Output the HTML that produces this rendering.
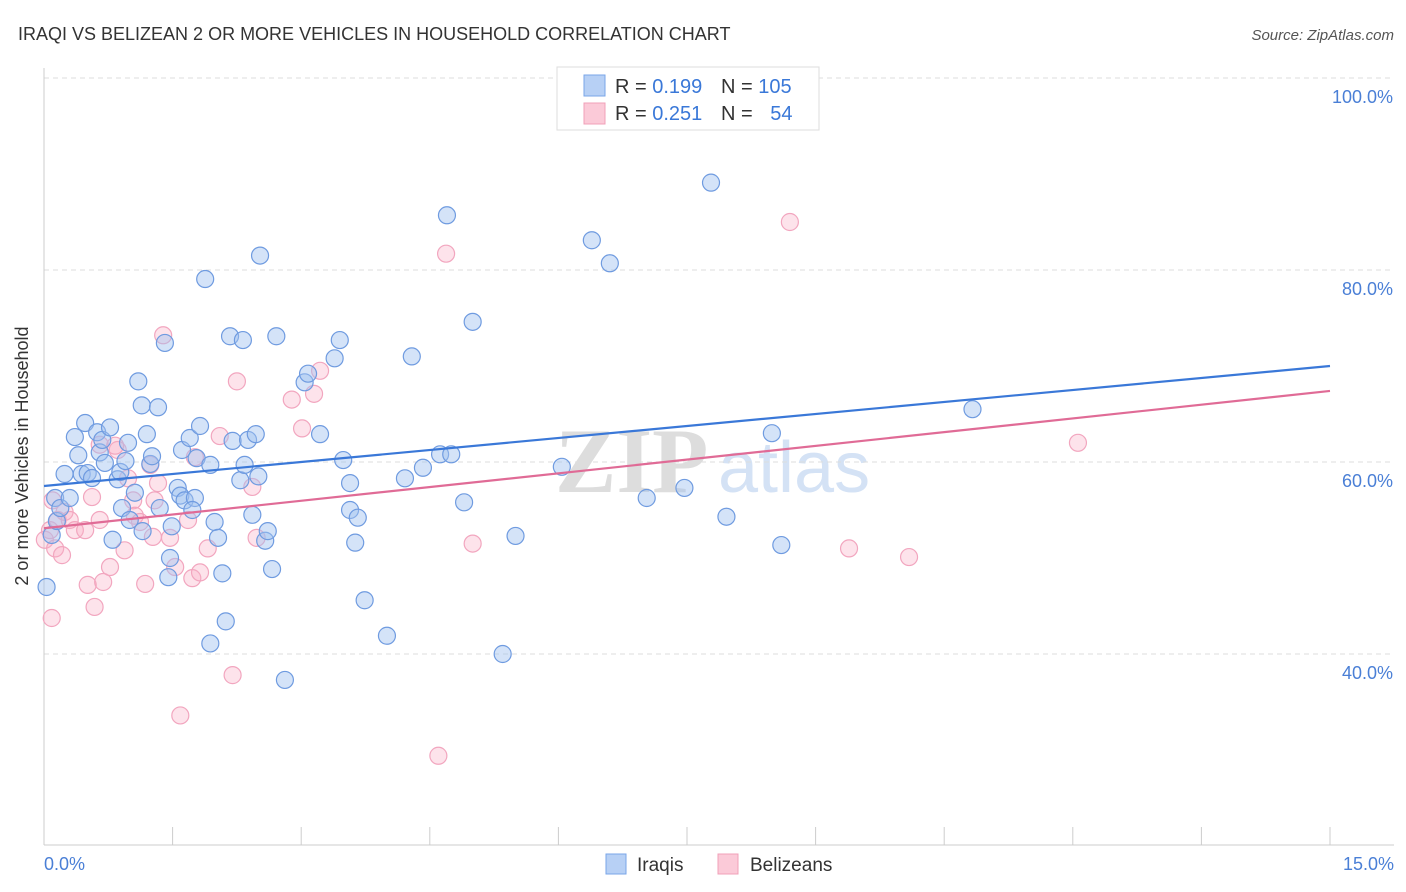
<!DOCTYPE html>
<html><head><meta charset="utf-8">
<style>
body{margin:0;background:#fff;font-family:"Liberation Sans",sans-serif;}
svg{display:block}
</style></head>
<body>
<svg id="chart" width="1406" height="892" xmlns="http://www.w3.org/2000/svg">
<text x="18" y="40" font-size="18" fill="#333">IRAQI VS BELIZEAN 2 OR MORE VEHICLES IN HOUSEHOLD CORRELATION CHART</text>
<text x="1394" y="40" font-size="15" fill="#555" font-style="italic" text-anchor="end">Source: ZipAtlas.com</text>
<g>
<text x="555" y="492" font-size="92" fill="#ddd" font-family="Liberation Serif,serif" font-weight="bold">ZIP</text>
<text x="718" y="492" font-size="72" fill="#d4e2f5">atlas</text>
</g>
<g id="grid"></g>
<g id="axes"></g>
<g id="points"></g>
<g id="lines"></g>
<text x="28" y="456" font-size="18" fill="#333" text-anchor="middle" transform="rotate(-90 28 456)">2 or more Vehicles in Household</text>
<text x="44" y="870" font-size="18" fill="#4a7fd6">0.0%</text>
<text x="1394" y="870" font-size="18" fill="#4a7fd6" text-anchor="end">15.0%</text>
<g>
<rect x="557" y="67" width="262" height="63" fill="#fff" stroke="#ddd"/>
<rect x="584" y="75" width="21" height="21" fill="#b7d0f5" stroke="#7aa6e8"/>
<rect x="584" y="103" width="21" height="21" fill="#fbcad8" stroke="#f0a0b8"/>
<text x="615" y="93" font-size="20" fill="#333">R = <tspan fill="#3a78d8">0.199</tspan></text>
<text x="721" y="93" font-size="20" fill="#333">N = <tspan fill="#3a78d8">105</tspan></text>
<text x="615" y="120" font-size="20" fill="#333">R = <tspan fill="#3a78d8">0.251</tspan></text>
<text x="721" y="120" font-size="20" fill="#333">N = <tspan fill="#3a78d8" dx="12">54</tspan></text>
</g>
<g>
<rect x="606" y="854" width="20" height="20" fill="#b7d0f5" stroke="#7aa6e8"/>
<text x="637" y="871" font-size="19" fill="#333">Iraqis</text>
<rect x="718" y="854" width="20" height="20" fill="#fbcad8" stroke="#f0a0b8"/>
<text x="750" y="871" font-size="19" fill="#333">Belizeans</text>
</g>
</svg>
<script>
const yTicks=[40,60,80,100];
const yTickLabels=["40.0%","60.0%","80.0%","100.0%"];
const xTicks=[0,1.5,3,4.5,6,7.5,9,10.5,12,13.5,15];
const iraqiX=[0.03,0.13,0.09,0.15,0.19,0.24,0.30,0.36,0.40,0.44,0.48,0.51,0.56,0.62,0.65,0.68,0.71,0.77,0.80,0.86,0.89,0.95,0.98,0.91,1.00,1.06,1.10,1.14,1.20,1.15,1.24,1.26,1.33,1.35,1.41,1.47,1.45,1.49,1.56,1.59,1.61,1.64,1.70,1.76,1.73,1.82,1.78,1.88,1.94,1.99,2.03,2.08,2.12,1.94,2.17,2.20,2.29,2.32,2.34,2.38,2.43,2.47,2.50,2.52,2.58,2.61,2.66,2.71,2.81,3.04,3.08,3.22,3.39,3.45,3.49,3.57,3.57,3.63,3.66,3.74,4.00,4.21,4.29,4.42,4.62,4.70,4.75,4.90,5.00,5.35,5.50,6.04,6.39,6.60,7.03,7.47,7.78,7.96,8.49,8.60,10.83];
const iraqiY=[46.98,56.25,52.4,53.85,55.2,58.75,56.25,62.6,60.7,58.75,64.06,58.85,58.33,63.1,61.0,62.3,59.9,63.6,51.9,58.2,58.96,60.1,62.0,55.2,53.96,56.8,68.4,65.9,62.9,52.8,59.8,60.6,65.7,55.2,72.4,50.0,48.0,53.3,57.3,56.5,61.25,56.0,62.5,56.25,55.0,63.75,60.4,79.06,59.7,53.75,52.1,48.4,43.4,41.1,73.1,62.2,58.1,72.7,59.7,62.3,54.5,62.9,58.5,81.5,51.8,52.8,48.85,73.1,37.3,68.3,69.2,62.9,70.8,72.7,60.2,57.8,55.0,51.6,54.2,45.6,41.9,58.3,71.0,59.4,60.8,85.7,60.8,55.8,74.6,40.0,52.3,59.5,83.1,80.7,56.25,57.3,89.1,54.3,63.0,51.35,65.5];
const belizeX=[0.01,0.07,0.13,0.21,0.09,0.10,0.16,0.24,0.30,0.36,0.48,0.51,0.56,0.59,0.65,0.69,0.77,0.86,0.94,0.98,1.04,1.06,1.12,1.18,1.24,1.29,1.33,1.27,1.39,1.47,1.53,1.59,1.68,1.73,1.76,1.82,1.91,2.05,2.20,2.25,2.43,2.48,2.89,3.01,3.15,3.22,4.60,4.69,5.00,8.70,9.39,10.09,12.06,0.65,0.83];
const belizeY=[51.9,52.9,51.0,50.3,43.75,56.0,53.96,54.8,53.96,52.9,52.9,47.2,56.35,44.9,53.96,47.5,49.06,61.25,50.8,58.3,56.0,54.4,53.75,47.3,59.7,56.0,57.8,52.2,73.2,52.1,49.06,33.6,53.96,47.9,60.5,48.5,51.0,62.7,37.8,68.4,57.4,52.1,66.5,63.5,67.1,69.5,29.4,81.7,51.5,85.0,51.0,50.1,62.0,61.8,61.7];
const iraqiTrend=[57.5,70.0];
const belizeTrend=[53.1,67.4];
const NS="http://www.w3.org/2000/svg";
function sx(v){return 44+v/15*1286;}
function sy(v){return 1038-v*9.6;}
function mk(tag,attrs,parent){const e=document.createElementNS(NS,tag);for(const k in attrs)e.setAttribute(k,attrs[k]);parent.appendChild(e);return e;}
const grid=document.getElementById('grid'),axes=document.getElementById('axes'),pts=document.getElementById('points'),lines=document.getElementById('lines');
yTicks.forEach((t,i)=>{
 const l=mk('line',{x1:44,x2:1394,y1:sy(t),y2:sy(t),stroke:'#ddd','stroke-dasharray':'5,4'},grid);
 
 
 const tx=mk('text',{x:1393,y:sy(t)+25,'font-size':18,fill:'#4a7fd6','text-anchor':'end'},grid);
 tx.textContent=yTickLabels[i];
 
 
});
const ya=mk('line',{x1:44,x2:44,y1:68,y2:845,stroke:'#ccc'},axes);


const xa=mk('line',{x1:44,x2:1394,y1:845,y2:845,stroke:'#ccc'},axes);


xTicks.forEach(t=>{
 const l=mk('line',{x1:sx(t),x2:sx(t),y1:827,y2:845,stroke:'#ccc'},axes);
 
 
});
function drawPts(X,Y,fill,stroke,name){
 X.forEach((x,i)=>{
  const c=mk('circle',{cx:sx(x),cy:sy(Y[i]),r:8.5,fill:fill,stroke:stroke,'stroke-width':1.2},pts);
  
  
 });
}
drawPts(belizeX,belizeY,'rgba(248,175,198,0.35)','#f2a6bf','belizean-point');
drawPts(iraqiX,iraqiY,'rgba(160,192,240,0.45)','#6f9be0','iraqi-point');
const l1=mk('line',{x1:sx(0),y1:sy(iraqiTrend[0]),x2:sx(15),y2:sy(iraqiTrend[1]),stroke:'#3a78d8','stroke-width':2.2},lines);


const l2=mk('line',{x1:sx(0),y1:sy(belizeTrend[0]),x2:sx(15),y2:sy(belizeTrend[1]),stroke:'#e06b96','stroke-width':2.2},lines);


</script>
</body></html>
